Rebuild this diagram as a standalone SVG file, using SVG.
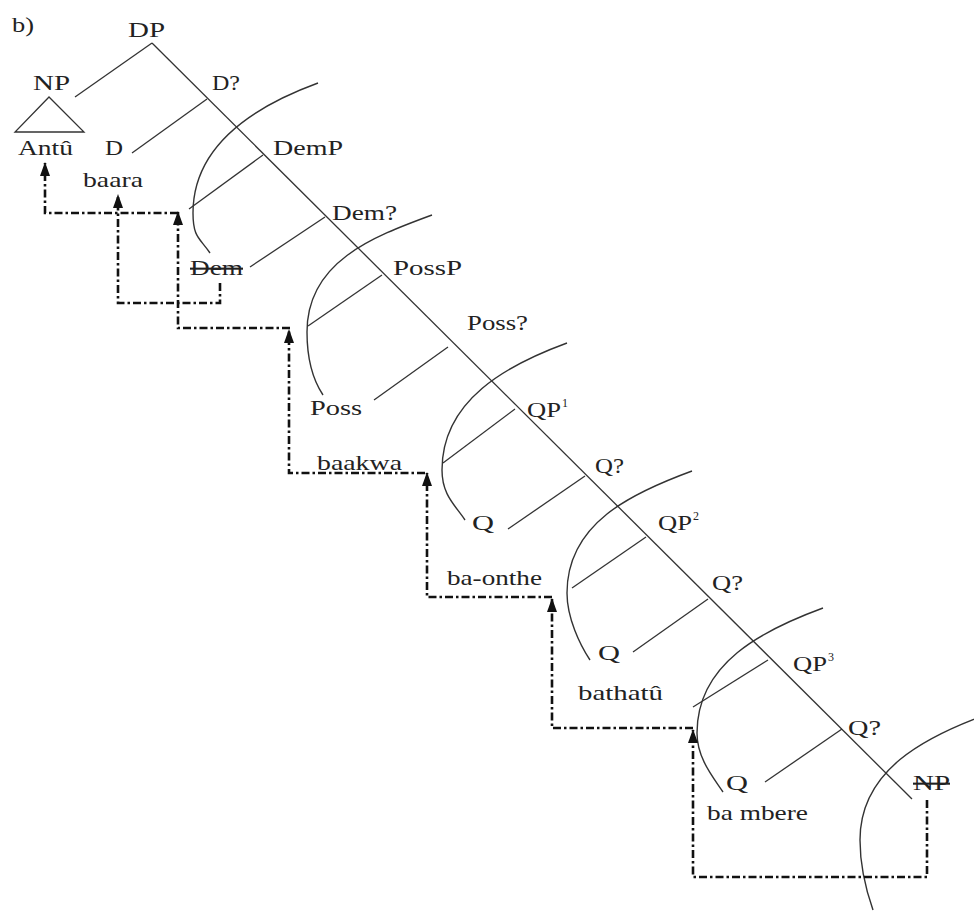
<svg xmlns="http://www.w3.org/2000/svg" width="974" height="913" viewBox="0 0 974 913">
<defs>
<style>
text{font-family:"Liberation Serif","Times New Roman",serif;font-size:21px;fill:#222}
.sup{font-size:12px}
.strike{text-decoration:line-through}
.tree line{stroke:#333;stroke-width:1.3}
.arc{fill:none;stroke:#333;stroke-width:1.4}
.mv{fill:none;stroke:#111;stroke-width:2.6;stroke-dasharray:8 3 2.5 3;marker-end:url(#ah)}
</style>
<marker id="ah" viewBox="0 0 14 10" refX="13" refY="5" markerWidth="14" markerHeight="10" markerUnits="userSpaceOnUse" orient="auto">
<path d="M0,0 L14,5 L0,10 z" fill="#111"/>
</marker>
</defs>
<rect width="974" height="913" fill="#fff"/>
<text x="12" y="32" textLength="22" lengthAdjust="spacingAndGlyphs">b)</text>

<g id="connectors">
<g class="tree">
<line x1="152" y1="43" x2="912" y2="799"/>
<line x1="152" y1="43" x2="75" y2="97"/>
<line x1="207" y1="99" x2="132" y2="153"/>
<line x1="263" y1="155" x2="189" y2="209"/>
<line x1="325" y1="217" x2="250" y2="267"/>
<line x1="382" y1="275" x2="308" y2="326"/>
<line x1="448" y1="347" x2="374" y2="400"/>
<line x1="515" y1="409" x2="443" y2="463"/>
<line x1="585" y1="476" x2="508" y2="529"/>
<line x1="646" y1="537" x2="572" y2="588"/>
<line x1="708" y1="599" x2="633" y2="652"/>
<line x1="768" y1="660" x2="693" y2="707"/>
<line x1="842" y1="729" x2="765" y2="782"/>
</g>
<path class="arc" d="M318,83 C258,105 193,143 193,213 C193,238 200,238 210,253"/>
<path class="arc" d="M432,215 C372,237 307,262 307,332 C307,357 313,380 323,395"/>
<path class="arc" d="M567,343 C507,365 442,400 442,470 C442,495 455,505 465,520"/>
<path class="arc" d="M692,471 C632,493 567,523 567,593 C567,618 580,645 590,660"/>
<path class="arc" d="M823,608 C763,630 697,663 697,733 C697,758 713,777 723,792"/>
<path class="arc" d="M985,715 C925,737 860,770 860,840 C860,865 866,890 873,910"/>
<polyline class="mv" points="178,213 45,213 45,163"/>
<polyline class="mv" points="220,283 220,303 118,303 118,195"/>
<polyline class="mv" points="290,328 178,328 178,212"/>
<polyline class="mv" points="425,473 289,473 289,330"/>
<polyline class="mv" points="552,597 427,597 427,473"/>
<polyline class="mv" points="693,728 552,728 552,599"/>
<polyline class="mv" points="927,800 927,877 693,877 693,730"/>
</g>

<g id="n-DP"><text x="128" y="37" textLength="37" lengthAdjust="spacingAndGlyphs">DP</text></g>
<g id="n-NP"><text x="33" y="90" textLength="37" lengthAdjust="spacingAndGlyphs">NP</text>
<polygon points="49,97 15,132 84,132" fill="none" stroke="#333" stroke-width="1.3"/></g>
<g id="n-Antu"><text x="18" y="155" textLength="55" lengthAdjust="spacingAndGlyphs">Antû</text></g>
<g id="n-D"><text x="105" y="155" textLength="18" lengthAdjust="spacingAndGlyphs">D</text></g>
<g id="n-baara"><text x="83" y="187" textLength="60" lengthAdjust="spacingAndGlyphs">baara</text></g>
<g id="n-Dbar"><text x="212" y="90" textLength="28" lengthAdjust="spacingAndGlyphs">D?</text></g>
<g id="n-DemP"><text x="273" y="155" textLength="70" lengthAdjust="spacingAndGlyphs">DemP</text></g>
<g id="n-Dembar"><text x="332" y="220" textLength="65" lengthAdjust="spacingAndGlyphs">Dem?</text></g>
<g id="n-Dem"><text class="strike" x="190" y="275" textLength="53" lengthAdjust="spacingAndGlyphs">Dem</text></g>
<g id="n-PossP"><text x="393" y="275" textLength="69" lengthAdjust="spacingAndGlyphs">PossP</text></g>
<g id="n-Possbar"><text x="467" y="330" textLength="61" lengthAdjust="spacingAndGlyphs">Poss?</text></g>
<g id="n-Poss"><text x="310" y="415" textLength="52" lengthAdjust="spacingAndGlyphs">Poss</text></g>
<g id="n-baakwa"><text x="317" y="470" textLength="85" lengthAdjust="spacingAndGlyphs">baakwa</text></g>
<g id="n-QP1"><text x="527" y="417" textLength="34" lengthAdjust="spacingAndGlyphs">QP</text><text class="sup" x="562" y="407">1</text></g>
<g id="n-Qbar1"><text x="595" y="473" textLength="29" lengthAdjust="spacingAndGlyphs">Q?</text></g>
<g id="n-Q1"><text x="472" y="530" textLength="22" lengthAdjust="spacingAndGlyphs">Q</text></g>
<g id="n-baonthe"><text x="447" y="585" textLength="95" lengthAdjust="spacingAndGlyphs">ba-onthe</text></g>
<g id="n-QP2"><text x="658" y="530" textLength="34" lengthAdjust="spacingAndGlyphs">QP</text><text class="sup" x="693" y="520">2</text></g>
<g id="n-Qbar2"><text x="712" y="590" textLength="31" lengthAdjust="spacingAndGlyphs">Q?</text></g>
<g id="n-Q2"><text x="598" y="660" textLength="22" lengthAdjust="spacingAndGlyphs">Q</text></g>
<g id="n-bathatu"><text x="578" y="700" textLength="85" lengthAdjust="spacingAndGlyphs">bathatû</text></g>
<g id="n-QP3"><text x="793" y="671" textLength="34" lengthAdjust="spacingAndGlyphs">QP</text><text class="sup" x="828" y="661">3</text></g>
<g id="n-Qbar3"><text x="848" y="735" textLength="33" lengthAdjust="spacingAndGlyphs">Q?</text></g>
<g id="n-Q3"><text x="726" y="790" textLength="22" lengthAdjust="spacingAndGlyphs">Q</text></g>
<g id="n-bambere"><text x="707" y="820" textLength="101" lengthAdjust="spacingAndGlyphs">ba mbere</text></g>
<g id="n-NPlow"><text class="strike" x="913" y="790" textLength="37" lengthAdjust="spacingAndGlyphs">NP</text></g>
</svg>
